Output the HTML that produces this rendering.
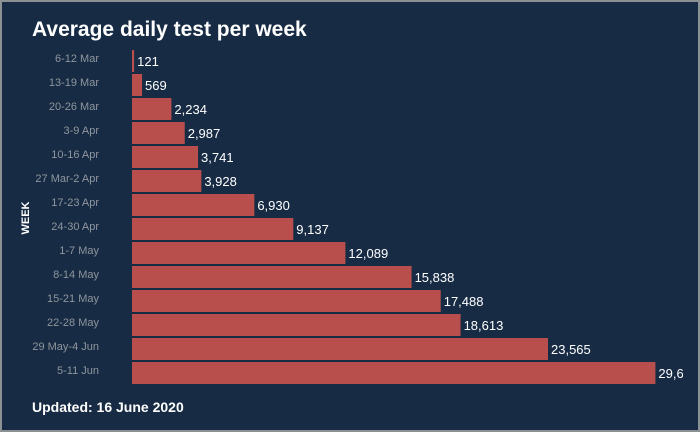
<!DOCTYPE html>
<html><head><meta charset="utf-8"><style>
html,body{margin:0;padding:0;background:#8c9196;}
#wrap{position:absolute;left:2px;top:2px;width:696px;height:428px;background:#172b44;}
svg{position:absolute;left:0;top:0;}
text{font-family:"Liberation Sans",sans-serif;}
</style></head><body>
<div id="wrap"></div>
<svg id="chart" width="700" height="432">
<defs><clipPath id="clip"><rect x="0" y="0" width="683" height="432"/></clipPath></defs>
<text x="32" y="36" fill="#fff" font-size="21" font-weight="bold">Average daily test per week</text>
<text transform="translate(29,218) rotate(-90)" text-anchor="middle" fill="#fff" font-size="11" font-weight="bold">WEEK</text>
<text x="32" y="412" fill="#fff" font-size="14" font-weight="bold">Updated: 16 June 2020</text>
<g id="bars" clip-path="url(#clip)"></g>
</svg>
<script>
const categories=["6-12 Mar","13-19 Mar","20-26 Mar","3-9 Apr","10-16 Apr","27 Mar-2 Apr","17-23 Apr","24-30 Apr","1-7 May","8-14 May","15-21 May","22-28 May","29 May-4 Jun","5-11 Jun"];
const values=[121,569,2234,2987,3741,3928,6930,9137,12089,15838,17488,18613,23565,29650];
const x0=132, pxPerUnit=416/23565;
function xs(v){return v*pxPerUnit;}
function yb(i){return 50+i*24;}
const ns="http://www.w3.org/2000/svg";
const g=document.getElementById('bars');
const svg=document.getElementById('chart');
values.forEach((v,i)=>{
  const r=document.createElementNS(ns,'rect');
  r.setAttribute('x',x0);r.setAttribute('y',yb(i));
  r.setAttribute('width',xs(v));r.setAttribute('height',22);
  r.setAttribute('fill','#b84f4c');
  
  
  g.appendChild(r);
  const t=document.createElementNS(ns,'text');
  t.setAttribute('x',x0+xs(v)+3);t.setAttribute('y',yb(i)+16);
  t.setAttribute('fill','#fff');t.setAttribute('font-size','13');
  t.textContent=v.toLocaleString('en-US');
  
  
  g.appendChild(t);
  const c=document.createElementNS(ns,'text');
  c.setAttribute('x',99);c.setAttribute('y',yb(i)+12);
  c.setAttribute('text-anchor','end');
  c.setAttribute('fill','#8f969d');c.setAttribute('font-size','11');
  c.textContent=categories[i];
  
  
  svg.appendChild(c);
});
</script>
</body></html>
